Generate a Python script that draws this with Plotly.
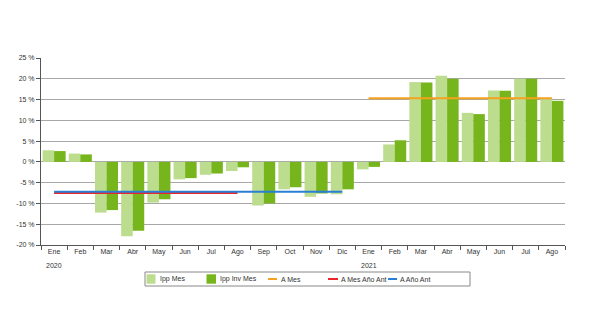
import plotly.graph_objects as go

months = ["Ene", "Feb", "Mar", "Abr", "May", "Jun", "Jul", "Ago", "Sep", "Oct", "Nov", "Dic",
          "Ene", "Feb", "Mar", "Abr", "May", "Jun", "Jul", "Ago"]
years = ["2020"] * 12 + ["2021"] * 8
cats = [f"{m} {y}" for m, y in zip(months, years)]

ipp_mes = [2.8, 2.0, -12.2, -17.9, -9.8, -4.2, -3.1, -2.2, -10.5, -6.6, -8.4, -7.8,
           -1.8, 4.2, 19.2, 20.7, 11.8, 17.2, 20.0, 15.1]
ipp_inv_mes = [2.6, 1.8, -11.6, -16.6, -9.0, -3.9, -2.8, -1.3, -10.0, -6.1, -7.6, -6.6,
               -1.2, 5.2, 19.1, 20.0, 11.5, 17.1, 20.0, 14.7]
a_mes = [None, None, None, None, None, None, None, None, None, None, None, None,
         15.3, 15.3, 15.3, 15.3, 15.3, 15.3, 15.3, 15.3]
a_mes_ano_ant = [-7.5, -7.5, -7.5, -7.5, -7.5, -7.5, -7.5, -7.5, None, None, None, None,
                 None, None, None, None, None, None, None, None]
a_ano_ant = [-7.2, -7.2, -7.2, -7.2, -7.2, -7.2, -7.2, -7.2, -7.2, -7.2, -7.2, -7.2,
             None, None, None, None, None, None, None, None]
y_ticks = [-20, -15, -10, -5, 0, 5, 10, 15, 20, 25]
y_ticktext = [f"{v} %" for v in y_ticks]

FONT = "Liberation Sans"
TXT = "#333"
C_LIGHT, C_DARK = "#bcdc8e", "#76b51c"
C_ORANGE, C_RED, C_BLUE = "#f5a21e", "#e8262c", "#2a7fd4"

W, H = 600, 323
ML, MR, MT, MB = 41, 35, 58, 78
PW, PH = W - ML - MR, H - MT - MB


def px(x):
    return (x - ML) / PW


def py(y):
    return (H - MB - y) / PH


fig = go.Figure()
fig.add_trace(go.Bar(x=cats, y=ipp_mes, name="Ipp Mes", marker_color=C_LIGHT, marker_line_width=0))
fig.add_trace(go.Bar(x=cats, y=ipp_inv_mes, name="Ipp Inv Mes", marker_color=C_DARK, marker_line_width=0))
fig.add_trace(go.Scatter(x=cats, y=a_mes, name="A Mes", mode="lines",
                         line=dict(color=C_ORANGE, width=2), connectgaps=False))
fig.add_trace(go.Scatter(x=cats, y=a_mes_ano_ant, name="A Mes Año Ant", mode="lines",
                         line=dict(color=C_RED, width=2), connectgaps=False))
fig.add_trace(go.Scatter(x=cats, y=a_ano_ant, name="A Año Ant", mode="lines",
                         line=dict(color=C_BLUE, width=2), connectgaps=False))

annotations = []
for i, (c, y) in enumerate(zip(cats, years)):
    if i == 0 or years[i - 1] != y:
        annotations.append(dict(x=c, xref="x", y=py(265.5), yref="paper", text=y, showarrow=False,
                                font=dict(family=FONT, size=7, color=TXT), yanchor="middle"))

# legend drawn as a compact box (layout only)
shapes = [dict(type="rect", xref="paper", yref="paper", x0=px(145), x1=px(470), y0=py(272), y1=py(286),
               line=dict(color="#888", width=1), fillcolor="white")]
legend_items = [
    ("Ipp Mes", "box", C_LIGHT, 146.5, 155.5, 157.5),
    ("Ipp Inv Mes", "box", C_DARK, 206.5, 216, 217.5),
    ("A Mes", "line", C_ORANGE, 268, 277, 278.5),
    ("A Mes Año Ant", "line", C_RED, 328, 338, 338.5),
    ("A Año Ant", "line", C_BLUE, 388, 397, 397.5),
]
for name, kind, col, x0, x1, xt in legend_items:
    if kind == "box":
        shapes.append(dict(type="rect", xref="paper", yref="paper", x0=px(x0), x1=px(x1),
                           y0=py(274.3), y1=py(283.7), line=dict(width=0), fillcolor=col))
    else:
        shapes.append(dict(type="line", xref="paper", yref="paper", x0=px(x0), x1=px(x1),
                           y0=py(279), y1=py(279), line=dict(color=col, width=2)))
    annotations.append(dict(x=px(xt), xref="paper", y=py(279), yref="paper", text=name,
                            showarrow=False, xanchor="left", yanchor="middle",
                            font=dict(family=FONT, size=7, color=TXT)))

fig.update_layout(
    width=W, height=H,
    margin=dict(l=ML, r=MR, t=MT, b=MB),
    paper_bgcolor="white", plot_bgcolor="white",
    barmode="group", bargap=0.12, bargroupgap=0,
    font=dict(family=FONT, size=7, color=TXT),
    showlegend=False,
    annotations=annotations,
    shapes=shapes,
)
fig.update_xaxes(type="category", tickvals=cats, ticktext=months, tickson="boundaries",
                 ticks="outside", ticklen=4, tickcolor="#555", showline=True, linecolor="#555",
                 linewidth=1, showgrid=False, tickangle=0, tickfont=dict(size=7, color=TXT))
fig.update_yaxes(range=[-20, 25], tickvals=y_ticks, ticktext=y_ticktext, ticks="outside", ticklen=4,
                 tickcolor="#555", showline=True, linecolor="#555", linewidth=1,
                 showgrid=True, gridcolor="#a8a8a8", gridwidth=1, zeroline=False,
                 tickfont=dict(size=7, color=TXT))

fig.write_html("out.html")
